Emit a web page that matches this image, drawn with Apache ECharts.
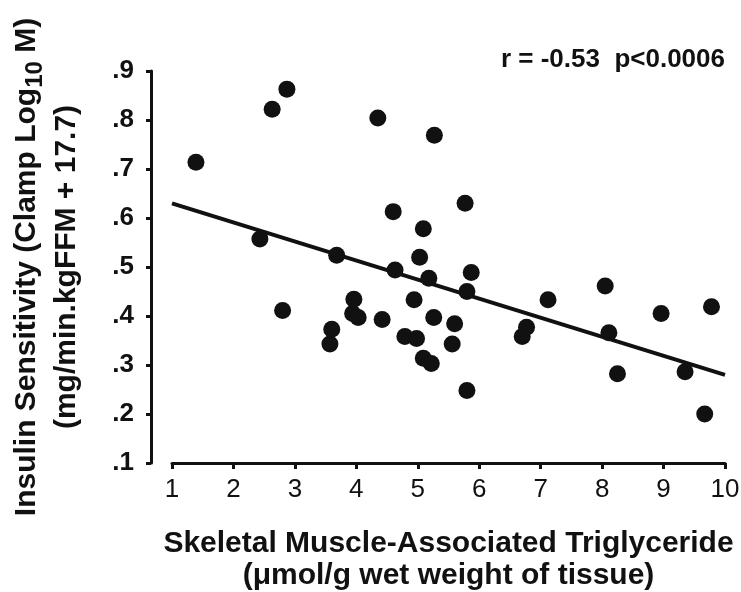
<!DOCTYPE html>
<html>
<head>
<meta charset="utf-8">
<script src="https://cdn.jsdelivr.net/npm/echarts@6/dist/echarts.min.js"></script>
<style>
  html, body { margin: 0; padding: 0; background: #fff; }
  #chart { width: 741px; height: 592px; }
</style>
</head>
<body>
<div id="chart"></div>
<script>
// triglyceride (x) and insulin sensitivity (y)
const triglyceride = [1.39, 2.43, 2.63, 2.80, 2.87, 3.57, 3.60, 3.68, 3.94, 3.96, 4.03,
  4.35, 4.42, 4.60, 4.63, 4.79, 4.94, 4.98, 5.03, 5.09, 5.09, 5.18, 5.22, 5.26, 5.27,
  5.56, 5.60, 5.77, 5.80, 5.80, 5.87, 6.70, 6.77, 7.12, 8.05, 8.11, 8.25, 8.96, 9.35,
  9.67, 9.78];
const sensitivity = [0.714, 0.557, 0.822, 0.411, 0.863, 0.343, 0.373, 0.524, 0.405, 0.434, 0.397,
  0.804, 0.393, 0.613, 0.494, 0.358, 0.433, 0.354, 0.520, 0.578, 0.314, 0.477, 0.303, 0.397, 0.769,
  0.343, 0.384, 0.630, 0.450, 0.248, 0.489, 0.358, 0.377, 0.433, 0.461, 0.366, 0.282, 0.405, 0.286,
  0.200, 0.419];

// regression line end points
const fitX = [1, 10];
const fitY = [0.63, 0.28];

const xTicks = [1, 2, 3, 4, 5, 6, 7, 8, 9, 10];
const yTicks = ['.1', '.2', '.3', '.4', '.5', '.6', '.7', '.8', '.9'];

const font = "'Liberation Sans', Arial, Helvetica, sans-serif";

const points = triglyceride.map((x, i) => [x, sensitivity[i]]);
const fitLine = fitX.map((x, i) => [x, fitY[i]]);

const myChart = echarts.init(document.getElementById('chart'));

const option = {
  animation: false,
  backgroundColor: '#fff',
  grid: {
    left: 172,
    right: 16,
    top: 71,
    bottom: 129,
    containLabel: false,
    outerBoundsMode: 'none',
  },
  xAxis: {
    type: 'value',
    min: 1,
    max: 10,
    interval: 1,
    name: 'Skeletal Muscle-Associated Triglyceride\n(\u03bcmol/g wet weight of tissue)',
    nameLocation: 'middle',
    nameGap: 65,
    nameTextStyle: {
      fontFamily: font,
      fontSize: 30,
      fontWeight: 'bold',
      color: '#111',
      lineHeight: 32,
    },
    splitLine: { show: false },
    axisLine: { lineStyle: { color: '#111', width: 3 } },
    axisTick: { length: 6, lineStyle: { color: '#111', width: 3 } },
    axisLabel: {
      margin: 14,
      fontFamily: font,
      fontSize: 26,
      color: '#111',
      formatter: (v) => (xTicks.includes(v) ? String(v) : ''),
    },
  },
  yAxis: {
    type: 'value',
    min: 0.1,
    max: 0.9,
    interval: 0.1,
    offset: 21,
    name: 'Insulin Sensitivity (Clamp Log{sub|10} M)\n(mg/min.kgFFM + 17.7)',
    nameLocation: 'middle',
    nameRotate: 90,
    nameGap: 64,
    nameTextStyle: {
      fontFamily: font,
      fontSize: 30,
      fontWeight: 'bold',
      color: '#111',
      lineHeight: 40,
      rich: {
        sub: {
          fontFamily: font,
          fontSize: 24,
          fontWeight: 'bold',
          color: '#111',
          lineHeight: 26,
          verticalAlign: 'bottom',
        },
      },
    },
    splitLine: { show: false },
    axisLine: { show: true, lineStyle: { color: '#111', width: 3 } },
    axisTick: { show: true, length: 5, lineStyle: { color: '#111', width: 3 } },
    axisLabel: {
      margin: 17,
      fontFamily: font,
      fontSize: 26,
      fontWeight: 'bold',
      color: '#111',
      formatter: (v) => yTicks[Math.round((v - 0.1) * 10)],
    },
  },
  graphic: [
    {
      type: 'text',
      x: 725,
      y: 60,
      style: {
        text: 'r = -0.53  p<0.0006',
        font: 'bold 26px ' + font,
        fill: '#111',
        align: 'right',
        verticalAlign: 'middle',
      },
    },
  ],
  series: [
    {
      type: 'line',
      data: fitLine,
      symbol: 'none',
      lineStyle: { color: '#111', width: 4 },
      z: 2,
    },
    {
      type: 'scatter',
      data: points,
      symbol: 'circle',
      symbolSize: 17,
      itemStyle: { color: '#111', opacity: 1 },
      z: 3,
    },
  ],
};

myChart.setOption(option);
</script>
</body>
</html>
